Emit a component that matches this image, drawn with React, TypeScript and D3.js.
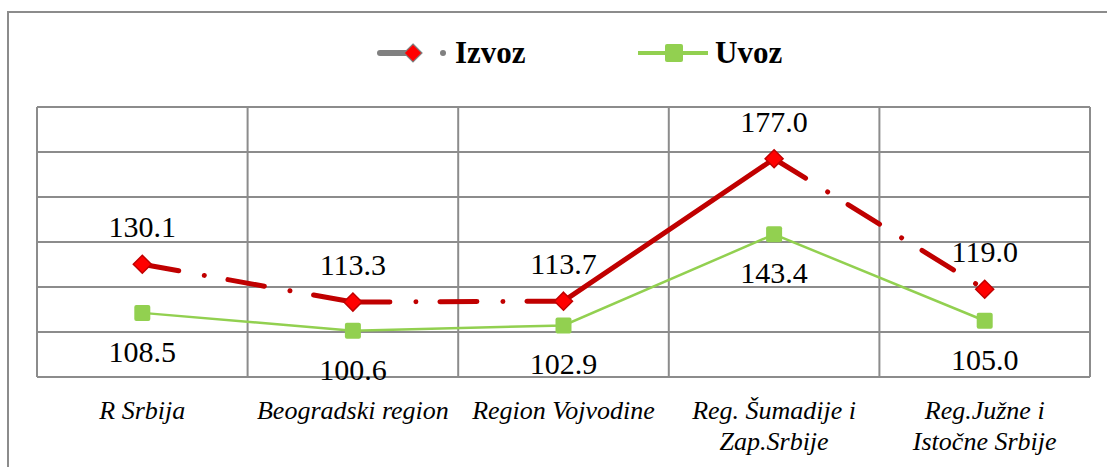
import React from 'react';
import * as d3 from 'd3';

// categories (multi-line labels split on \n)
const categories = [
    'R Srbija',
    'Beogradski region',
    'Region Vojvodine',
    'Reg. Šumadije i\nZap.Srbije',
    'Reg.Južne i\nIstočne Srbije',
];
const izvoz = [130.1, 113.3, 113.7, 177.0, 119.0];
const uvoz = [108.5, 100.6, 102.9, 143.4, 105.0];
// which Izvoz segments are drawn dash-dot (the third one is solid)
const izvozDashed = [true, true, false, true];
const yTicks = [80, 100, 120, 140, 160, 180, 200];

const W = 1107;
const H = 467;
const plot = { left: 37, right: 1090, top: 107, bottom: 377 };

const gridColor = '#8c8c8c';
const red = '#C00000';
const redFill = '#FF0000';
const green = '#92D050';
const FONT = 'Liberation Serif';

const diamond = (x: number, y: number, r: number) => `M${x},${y - r}L${x + r},${y}L${x},${y + r}L${x - r},${y}Z`;

const App = () => {
    const x = d3.scaleBand<string>().domain(categories).range([plot.left, plot.right]).padding(0);
    const y = d3.scaleLinear().domain([80, 200]).range([plot.bottom, plot.top]);
    const cx = (i: number) => (x(categories[i]) as number) + x.bandwidth() / 2;

    const line = d3
        .line<number>()
        .x((d, i) => cx(i))
        .y((d) => y(d));

    const segLine = d3
        .line<[number, number]>()
        .x((d) => d[0])
        .y((d) => d[1]);

    const txt = { fontFamily: `"${FONT}", serif` };

    return (
        <svg width={W} height={H} style={{ position: 'absolute', left: 0, top: 0, fontFamily: `"${FONT}", serif` }}>
            <rect x={0} y={0} width={W} height={H} fill="#fff" />
            {/* chart area border */}
            <rect x={8} y={12} width={W + 10} height={H + 10} fill="none" stroke={gridColor} strokeWidth={2} />

            {/* legend */}
            <g>
                <line x1={380} x2={410} y1={53} y2={53} stroke="#808080" strokeWidth={6} strokeLinecap="round" />
                <path d={diamond(413, 53, 9)} fill={redFill} stroke="#808080" strokeWidth={1.2} />
                <circle cx={443} cy={53} r={3} fill="#808080" />
                <text x={455} y={63} style={txt} fontWeight="bold" fontSize={31} fill="#000">
                    Izvoz
                </text>
                <line x1={638} x2={708} y1={53} y2={53} stroke={green} strokeWidth={4} />
                <rect x={665} y={44} width={18} height={18} rx={2} fill={green} />
                <text x={715} y={63} style={txt} fontWeight="bold" fontSize={31} fill="#000">
                    Uvoz
                </text>
            </g>

            {/* grid */}
            <g>
                {yTicks.map((t) => (
                    <line key={t} x1={plot.left} x2={plot.right} y1={y(t)} y2={y(t)} stroke={gridColor} strokeWidth={2} />
                ))}
                {categories.map((c) => (
                    <line key={c} x1={x(c)} x2={x(c)} y1={plot.top} y2={plot.bottom} stroke={gridColor} strokeWidth={2} />
                ))}
                <line x1={plot.right} x2={plot.right} y1={plot.top} y2={plot.bottom} stroke={gridColor} strokeWidth={2} />
            </g>

            {/* Uvoz series */}
            <path d={line(uvoz) as string} fill="none" stroke={green} strokeWidth={2.5} />
            {uvoz.map((v, i) => (
                <rect key={i} x={cx(i) - 8} y={y(v) - 8} width={16} height={16} rx={2} fill={green} />
            ))}

            {/* Izvoz series, segment by segment */}
            {izvozDashed.map((dashed, i) => (
                <path
                    key={i}
                    d={
                        segLine([
                            [cx(i), y(izvoz[i])],
                            [cx(i + 1), y(izvoz[i + 1])],
                        ]) as string
                    }
                    fill="none"
                    stroke={red}
                    strokeWidth={5}
                    strokeLinecap="round"
                    strokeDasharray={dashed ? '37 26 0.01 24' : undefined}
                />
            ))}
            {izvoz.map((v, i) => (
                <path key={i} d={diamond(cx(i), y(v), 9)} fill={redFill} stroke={red} strokeWidth={1.5} />
            ))}

            {/* data labels */}
            {izvoz.map((v, i) => (
                <text key={'i' + i} x={cx(i)} y={y(v) - 27} textAnchor="middle" style={txt} fontSize={30} fill="#000">
                    {v.toFixed(1)}
                </text>
            ))}
            {uvoz.map((v, i) => (
                <text key={'u' + i} x={cx(i)} y={y(v) + 49} textAnchor="middle" style={txt} fontSize={30} fill="#000">
                    {v.toFixed(1)}
                </text>
            ))}

            {/* category labels */}
            {categories.map((c, i) => (
                <text key={c} x={cx(i)} y={419} textAnchor="middle" style={txt} fontStyle="italic" fontSize={26} fill="#000">
                    {c.split('\n').map((l, j) => (
                        <tspan key={j} x={cx(i)} dy={j === 0 ? 0 : 31}>
                            {l}
                        </tspan>
                    ))}
                </text>
            ))}
        </svg>
    );
};

export default App;
